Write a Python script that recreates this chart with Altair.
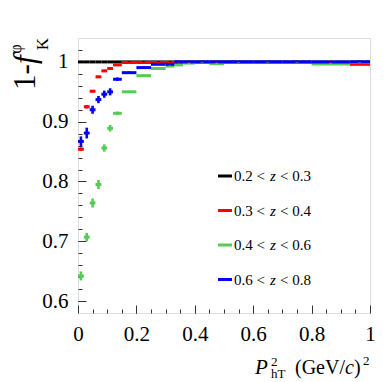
import altair as alt
import pandas as pd

# ---- data ----
bin_lo = [0.00, 0.02, 0.04, 0.06, 0.08, 0.10, 0.12, 0.15, 0.20, 0.25,
          0.30, 0.33, 0.36, 0.40, 0.45, 0.50, 0.60, 0.70, 0.80, 0.93]
bin_hi = [0.02, 0.04, 0.06, 0.08, 0.10, 0.12, 0.15, 0.20, 0.25, 0.30,
          0.33, 0.36, 0.40, 0.45, 0.50, 0.60, 0.70, 0.80, 0.93, 1.00]

series_names = ["0.2 < z < 0.3", "0.3 < z < 0.4", "0.4 < z < 0.6", "0.6 < z < 0.8"]
z_lo = ["0.2", "0.3", "0.4", "0.6"]
z_hi = ["0.3", "0.4", "0.6", "0.8"]
colors = ["#000000", "#ff0000", "#55cc55", "#0000ff"]

val_black = [1.000, 1.000, 1.000, 1.000, 1.000, 1.000, 1.000, 1.000, 1.000, 1.000,
             1.000, 1.000, 1.000, 1.000, 1.000, 1.000, 1.000, 1.000, 1.000, 1.000]
err_black = [0.001] * 20

val_red = [0.854, 0.925, 0.951, 0.975, 0.985, 0.989, 0.995, 0.999, 0.999, 0.999,
           0.999, 0.999, 0.999, 0.999, 0.999, 0.999, 0.999, 0.999, 0.999, 0.996]
err_red = [0.003, 0.003, 0.002, 0.002, 0.002, 0.002, 0.0015, 0.001, 0.001, 0.001,
           0.001, 0.001, 0.001, 0.001, 0.001, 0.001, 0.001, 0.001, 0.001, 0.001]

val_green = [0.642, 0.707, 0.764, 0.795, 0.856, 0.889, 0.914, 0.950, 0.977, 0.989,
             0.993, 0.995, 0.998, 0.999, 0.997, 0.999, 0.999, 0.999, 0.9966, 0.999]
err_green = [0.0075, 0.007, 0.0075, 0.0075, 0.006, 0.0055, 0.003, 0.002, 0.002, 0.001,
             0.001, 0.001, 0.001, 0.001, 0.001, 0.001, 0.001, 0.001, 0.001, 0.001]

val_blue = [0.867, 0.881, 0.920, 0.937, 0.946, 0.950, 0.971, 0.982, 0.9905, 0.996,
            0.996, 1.000, 1.000, 1.000, 1.000, 1.000, 1.000, 1.000, 1.000, 1.000]
err_blue = [0.0084, 0.009, 0.0067, 0.006, 0.006, 0.006, 0.003, 0.002, 0.0015, 0.001,
            0.001, 0.001, 0.001, 0.001, 0.001, 0.001, 0.001, 0.001, 0.001, 0.001]

all_vals = [val_black, val_red, val_green, val_blue]
all_errs = [err_black, err_red, err_green, err_blue]

rows = []
for name, vals, errs in zip(series_names, all_vals, all_errs):
    for lo, hi, v, e in zip(bin_lo, bin_hi, vals, errs):
        rows.append({"series": name, "xlo": lo, "xhi": hi, "xc": (lo + hi) / 2,
                     "y": v, "ylo": v - e, "yhi": v + e})
df = pd.DataFrame(rows)

# ---- geometry ----
W, H = 292, 275
FONT = "'Liberation Serif', 'Times New Roman', Times, 'DejaVu Serif', serif"
AX = "#333333"

xs = alt.Scale(domain=[0, 1], nice=False, zero=False)
ys = alt.Scale(domain=[0.58, 1.04], nice=False, zero=False)
col = alt.Color("series:N", scale=alt.Scale(domain=series_names, range=colors), legend=None)

major_x = alt.Axis(orient="bottom", offset=-8, tickSize=8, domain=False, grid=False,
                   values=[0, 0.2, 0.4, 0.6, 0.8, 1.0], format="~g", title=None,
                   labelPadding=10, labelFontSize=21, labelFont=FONT, labelColor="black",
                   tickColor=AX, labelFlush=False)
major_y = alt.Axis(orient="left", offset=-8, tickSize=8, domain=False, grid=False,
                   values=[0.6, 0.7, 0.8, 0.9, 1.0], format="~g", title=None,
                   labelPadding=10, labelFontSize=21, labelFont=FONT, labelColor="black",
                   tickColor=AX)
minor_x = alt.Axis(orient="top", offset=-H, tickSize=4, domain=False, grid=False,
                   values=[round(i * 0.05, 2) for i in range(1, 20)], labels=False,
                   title=None, tickColor=AX)
minor_y = alt.Axis(orient="right", offset=-W, tickSize=4, domain=False, grid=False,
                   values=[round(0.60 + i * 0.02, 2) for i in range(22)], labels=False,
                   title=None, tickColor=AX)

hbar = alt.Chart(df).mark_rule(strokeWidth=3).encode(
    x=alt.X("xlo:Q", scale=xs, axis=major_x), x2="xhi:Q",
    y=alt.Y("y:Q", scale=ys, axis=major_y), color=col)
vbar = alt.Chart(df).mark_rule(strokeWidth=2.6).encode(
    x=alt.X("xc:Q", scale=xs, axis=major_x),
    y=alt.Y("ylo:Q", scale=ys, axis=major_y), y2="yhi:Q", color=col)
data_layer = alt.layer(hbar, vbar)

minor_layer = alt.Chart(df).mark_point(opacity=0).encode(
    x=alt.X("xc:Q", scale=xs, axis=minor_x),
    y=alt.Y("y:Q", scale=ys, axis=minor_y))

one = pd.DataFrame({"k": [0]})


def txt(s, x, y, size, italic=False, angle=0, align="left", baseline="alphabetic"):
    kw = dict(text=s, fontSize=size, font=FONT, color="black", align=align,
              baseline=baseline, angle=angle)
    if italic:
        kw["fontStyle"] = "italic"
    return alt.Chart(one).mark_text(**kw).encode(x=alt.value(x), y=alt.value(y))


layers = [data_layer, minor_layer]

# legend
for i in range(4):
    yy = 138 + 34.5 * i
    layers.append(alt.Chart(one).mark_rule(strokeWidth=3, color=colors[i]).encode(
        x=alt.value(140), x2=alt.value(154), y=alt.value(yy)))
    layers.append(txt(z_lo[i] + " <", 156, yy, 15, baseline="middle"))
    layers.append(txt("z", 192, yy, 15, italic=True, baseline="middle"))
    layers.append(txt("< " + z_hi[i], 202, yy, 15, baseline="middle"))

# y title: 1-f^phi_K
layers.append(txt("1-", -43, 52, 31, angle=270))
layers.append(txt("f", -43, 26, 31, italic=True, angle=270))
layers.append(txt("φ", -62, 11, 16, angle=270, align="center", baseline="middle"))
layers.append(txt("K", -35, 6, 17, angle=270, align="center", baseline="middle"))

# x title: P^2_hT (GeV/c)^2
layers.append(txt("P", 177, 336, 21, italic=True))
layers.append(txt("2", 193, 328, 13))
layers.append(txt("hT", 193, 340, 13))
layers.append(txt("(GeV/", 217, 336, 20))
layers.append(txt("c", 267, 336, 20, italic=True))
layers.append(txt(")", 276, 336, 20))
layers.append(txt("2", 285, 327, 13))

chart = alt.layer(*layers).resolve_scale(x="independent", y="independent").properties(
    width=W, height=H,
    padding={"left": 70, "top": 30, "right": 12, "bottom": 68},
    autosize=alt.AutoSizeParams(type="none"),
).configure_view(stroke=AX, strokeWidth=1.5).configure(background="white")

chart.save("out.html", embed_options={"renderer": "svg", "actions": False})
